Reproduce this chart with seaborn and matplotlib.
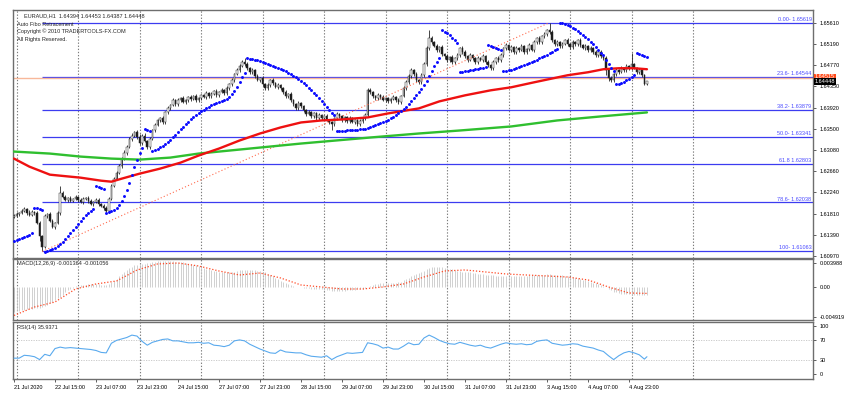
import numpy as np
import matplotlib
matplotlib.use("Agg")
import matplotlib.pyplot as plt
import seaborn as sns

sns.set_theme(style="white")
plt.rcParams["font.family"] = ["Liberation Sans", "DejaVu Sans"]

# ---------------- data (prices in 1e-4 units) ----------------
first_open = 16175
close = [
    16177, 16181, 16183, 16187, 16191, 16183, 16179, 16185, 16183, 16163,
    16137, 16115, 16177, 16181, 16167, 16155, 16163, 16183, 16223, 16215,
    16209, 16213, 16207, 16211, 16215, 16209, 16205, 16211, 16213, 16207,
    16201, 16205, 16209, 16201, 16197, 16193, 16187, 16211, 16237, 16251,
    16263, 16277, 16291, 16303, 16315, 16331, 16337, 16343, 16335, 16323,
    16337, 16327, 16315, 16331, 16347, 16357, 16367, 16371, 16363, 16383,
    16391, 16397, 16407, 16399, 16407, 16411, 16403, 16407, 16413, 16409,
    16415, 16407, 16411, 16417, 16413, 16421, 16415, 16419, 16425, 16417,
    16423, 16427, 16421, 16431, 16439, 16447, 16459, 16467, 16475, 16483,
    16479, 16471, 16463, 16467, 16455, 16447, 16451, 16439, 16431, 16437,
    16447, 16441, 16433, 16437, 16431, 16423, 16415, 16419, 16407, 16399,
    16391, 16401, 16395, 16387, 16379, 16383, 16375, 16381, 16371, 16377,
    16371, 16375, 16367, 16363, 16359, 16371, 16379, 16375, 16367, 16373,
    16365, 16371, 16363, 16367, 16359, 16365, 16371, 16377, 16427, 16423,
    16415, 16411, 16417, 16413, 16407, 16411, 16405, 16409, 16413, 16407,
    16403, 16415, 16431, 16443, 16455, 16467, 16459, 16447, 16443, 16457,
    16479, 16511, 16531, 16523, 16515, 16507, 16513, 16499, 16495, 16487,
    16493, 16483, 16491, 16497, 16511, 16503, 16495, 16487, 16497, 16491,
    16483, 16491, 16487, 16495, 16483, 16477, 16471, 16483, 16491, 16487,
    16497, 16511, 16517, 16507, 16513, 16503, 16511, 16507, 16515, 16503,
    16509, 16517, 16507, 16523, 16531, 16523, 16535, 16539, 16547, 16543,
    16527, 16519, 16523, 16515, 16519, 16527, 16519, 16513, 16523, 16519,
    16527, 16517, 16511, 16515, 16507, 16511, 16503, 16497, 16503, 16495,
    16491, 16467, 16451, 16447, 16459, 16467, 16463, 16471, 16467, 16475,
    16471, 16479, 16471, 16463, 16467, 16457, 16439, 16445,
]
# upper / lower wick lengths in pips (base-36 digits, one per bar)
wick_hi = ("3423425324" "32324324e3" "4232423324" "3243234343" "4345434245"
           "3424343253" "4342434324" "3423243424" "3424343545" "8434342434"
           "3424324342" "3423242324" "3242324323" "2423243444" "3242423243"
           "4345443434" "44g4353434" "3434244343" "3424342434" "4343424343"
           "342434343f" "4343424343" "3424342434" "3434342434" "3m324331")
wick_lo = ("3243242343" "a924334243" "3423243424" "2434342423" "3242434354"
           "4345342434" "3424342434" "2434243424" "3243434242" "4343424343"
           "3424343434" "4343424343" "3424c43434" "3424343434" "3434243424"
           "3424343434" "3434243454" "4343434324" "3424343434" "4342434324"
           "3424343434" "4343424343" "3424343434" "4a63434243" "34243421")

sar = (
    [16127, 16129, 16131, 16133, 16135, 16137, 16139, 16143]
    + [16193, 16192, 16190, 16188]
    + [16105, 16107, 16109, 16111, 16113, 16117, 16121, 16125, 16131, 16137,
       16143, 16149, 16155, 16161, 16167, 16173, 16179, 16183, 16187, 16191]
    + [16237, 16235, 16233, 16231]
    + [16183, 16185, 16187, 16189, 16193, 16199, 16207, 16217, 16229, 16243,
       16259, 16275, 16289, 16303, 16313]
    + [16349, 16347, 16345]
    + [16307, 16309, 16311, 16314, 16317, 16321, 16325, 16329, 16334, 16339,
       16344, 16349, 16354, 16359, 16364, 16369, 16373, 16377, 16381, 16385,
       16388, 16391, 16394, 16397, 16399, 16401, 16403, 16405, 16407, 16410,
       16414, 16419, 16425, 16433, 16443, 16453, 16461]
    + [16491, 16490, 16489, 16488, 16487, 16485, 16483, 16481, 16479, 16477,
       16475, 16473, 16471, 16469, 16467, 16465, 16462, 16459, 16456, 16453,
       16449, 16445, 16441, 16437, 16432, 16427, 16422, 16417, 16411, 16405,
       16399, 16393, 16387, 16381, 16378]
    + [16345, 16345, 16346, 16346, 16347, 16347, 16347, 16348, 16348, 16349,
       16349, 16350, 16351, 16353, 16355, 16357, 16359, 16361, 16363, 16365,
       16368, 16371, 16374, 16377, 16381, 16385, 16389, 16394, 16399, 16405,
       16411, 16417, 16423, 16429, 16437, 16445, 16455, 16465, 16475, 16483,
       16491]
    + [16547, 16544, 16541, 16537, 16532, 16527, 16521]
    + [16463, 16464, 16465, 16466, 16467, 16468, 16469, 16470, 16471, 16472, 16473]
    + [16517, 16515, 16513, 16511, 16509, 16507]
    + [16465, 16466, 16467, 16468, 16469, 16471, 16473, 16475, 16477, 16479,
       16481, 16483, 16485, 16488, 16491, 16493, 16495, 16498, 16501, 16504,
       16507, 16510]
    + [16562, 16561, 16559, 16557, 16555, 16552, 16549, 16546, 16542, 16538,
       16534, 16529, 16524, 16519, 16513, 16507, 16501, 16497, 16487, 16479,
       16472, 16466]
    + [16439, 16440, 16442, 16444, 16447, 16450, 16453, 16457]
    + [16501, 16500, 16498, 16496, 16493]
)

red_ma_idx = [0, 6, 14, 26, 34, 38, 42, 49, 57, 65, 72, 80, 88, 96, 104, 112,
              120, 128, 138, 146, 158, 166, 176, 186, 194, 203, 216, 224, 230,
              236, 242, 247]
red_ma = [16291, 16275, 16259, 16253, 16247, 16245, 16251, 16261, 16271, 16283,
          16297, 16311, 16327, 16341, 16353, 16363, 16367, 16369, 16373, 16381,
          16391, 16405, 16417, 16427, 16433, 16443, 16457, 16463, 16469, 16471,
          16471, 16469]
green_ma_idx = [0, 14, 26, 38, 49, 61, 72, 84, 96, 112, 139, 158, 174, 194, 212,
                229, 247]
green_ma = [16305, 16301, 16295, 16291, 16289, 16293, 16301, 16307, 16313, 16321,
            16333, 16341, 16347, 16355, 16367, 16375, 16383]

fib_levels = ["0.00-", "23.6-", "38.2-", "50.0-", "61.8", "78.6-", "100-"]
fib_prices = [1.65619, 1.64544, 1.63879, 1.63341, 1.62803, 1.62038, 1.61063]
hline_price = 1.64515
bid_price = 1.64448

price_ticks = [1.65610, 1.65190, 1.64770, 1.64350, 1.63920, 1.63500, 1.63080,
               1.62660, 1.62240, 1.61810, 1.61390, 1.60970]
price_tick_labels = ["1.65610", "1.65190", "1.64770", "1.64350", "1.63920",
                     "1.63500", "1.63080", "1.62660", "1.62240", "1.61810",
                     "1.61390", "1.60970"]

# MACD main (histogram) in 1e-5 units, one per bar
macd = [
    -410, -400, -390, -385, -375, -370, -365, -360, -355, -350,
    -345, -335, -315, -290, -265, -240, -215, -190, -165, -125,
    -85, -50, -30, -10, 10, 20, 30, 35, 40, 45,
    50, 50, 48, 45, 40, 35, 35, 55, 75, 100,
    135, 175, 210, 245, 280, 310, 335, 355, 370, 380,
    385, 385, 390, 400, 410, 420, 428, 430, 428, 432,
    430, 428, 425, 420, 415, 410, 405, 395, 385, 375,
    365, 355, 340, 330, 320, 305, 295, 285, 270, 262,
    255, 250, 245, 240, 240, 245, 255, 265, 275, 282,
    285, 283, 280, 278, 275, 270, 265, 255, 240, 222,
    200, 175, 150, 125, 105, 85, 65, 45, 30, 15,
    5, 0, -5, -10, -15, -20, -25, -28, -30, -33,
    -38, -45, -52, -58, -64, -68, -66, -64, -62, -60,
    -56, -52, -48, -42, -36, -30, -25, -20, 0, 15,
    30, 45, 55, 60, 62, 65, 66, 66, 68, 72,
    80, 90, 110, 130, 155, 180, 200, 215, 230, 250,
    270, 295, 318, 325, 330, 330, 328, 325, 318, 310,
    300, 290, 280, 270, 262, 255, 250, 245, 240, 235,
    228, 222, 215, 210, 205, 200, 195, 190, 185, 182,
    182, 184, 186, 185, 184, 185, 186, 185, 186, 188,
    188, 190, 192, 195, 198, 200, 202, 205, 208, 210,
    205, 200, 196, 192, 190, 188, 180, 172, 165, 155,
    145, 135, 122, 110, 98, 85, 72, 60, 45, 30,
    15, -5, -30, -55, -75, -90, -100, -108, -112, -115,
    -120, -125, -128, -130, -132, -134, -135, -136,
]
signal_idx = [0, 8, 16, 24, 32, 40, 48, 56, 64, 72, 80, 88, 96, 104, 112, 120,
              128, 136, 144, 152, 160, 168, 176, 184, 192, 200, 208, 216, 224,
              232, 240, 247]
signal = [-470, -330, -248, -33, 50, 99, 280, 380, 396, 347, 264, 198, 231, 149,
          33, 0, -33, -33, 0, 50, 165, 264, 281, 248, 215, 198, 182, 165, 116,
          0, -99, -106]
macd_ticks = [0.003988, 0.0, -0.004919]
macd_tick_labels = ["0.003988", "0.00", "-0.004919"]

rsi_idx = list(range(0, 247, 2)) + [247]
rsi = [33, 33, 39, 38, 36, 30, 41, 38, 53, 56, 54, 55, 54, 53, 52, 51, 49, 45,
       44, 64, 70, 73, 76, 81, 79, 68, 60, 66, 69, 72, 73, 69, 69, 67, 65, 65,
       66, 64, 65, 60, 59, 57, 60, 69, 71, 69, 62, 57, 52, 48, 44, 43, 50, 46,
       45, 44, 44, 40, 37, 36, 35, 38, 30, 36, 40, 44, 43, 44, 45, 65, 63, 60,
       54, 56, 52, 52, 58, 65, 61, 62, 75, 81, 76, 70, 66, 63, 62, 66, 63, 60,
       58, 60, 56, 54, 58, 62, 65, 63, 62, 63, 61, 62, 68, 70, 71, 64, 62, 60,
       61, 63, 62, 58, 56, 54, 50, 47, 38, 30, 38, 44, 47, 44, 40, 31, 36]
rsi_ticks = [100, 70, 30, 0]
rsi_tick_labels = ["100", "70", "30", "0"]

date_idx = [0, 16, 32, 48, 64, 80, 96, 112, 128, 144, 160, 176, 192, 208, 224, 240]
date_labels = ["21 Jul 2020", "22 Jul 15:00", "23 Jul 07:00", "23 Jul 23:00",
               "24 Jul 15:00", "27 Jul 07:00", "27 Jul 23:00", "28 Jul 15:00",
               "29 Jul 07:00", "29 Jul 23:00", "30 Jul 15:00", "31 Jul 07:00",
               "31 Jul 23:00", "3 Aug 15:00", "4 Aug 07:00", "4 Aug 23:00"]
grid_idx = [1, 25, 49, 73, 97, 121, 145, 169, 193, 217, 241, 265]

header = "EURAUD,H1  1.64394 1.64453 1.64387 1.64448"
info_lines = ["Auto Fibo Retracement", "Copyright \u00a9 2010 TRADERTOOLS-FX.COM",
              "All Rights Reserved."]
macd_title = "MACD(12,26,9) -0.001364 -0.001056"
rsi_title = "RSI(14) 35.9371"

# ---------------- figure ----------------
W, H = 855, 395
fig = plt.figure(figsize=(W / 100, H / 100), dpi=100)
fig.patch.set_facecolor("white")


def axes_px(x0, y0, x1, y1):
    return fig.add_axes([x0 / W, 1 - y1 / H, (x1 - x0) / W, (y1 - y0) / H])


def ftext(x, y, s, **kw):
    kw.setdefault("va", "center")
    kw.setdefault("fontsize", 4)
    return fig.text(x / W, 1 - y / H, s, **kw)


ax = axes_px(13, 10, 813, 258)
axm = axes_px(13, 259, 813, 320)
axr = axes_px(13, 322, 813, 379)
XL, XR = -0.39, 311.8

N = len(close)
idx = np.arange(N)
c = np.array(close, float) / 1e4
o = np.r_[first_open, close[:-1]].astype(float) / 1e4
wh = np.array([int(ch, 36) for ch in wick_hi]) / 1e4
wl = np.array([int(ch, 36) for ch in wick_lo]) / 1e4
h = np.maximum(o, c) + wh
l = np.minimum(o, c) - wl
i_low = int(np.argmin(l))
i_high = int(np.argmax(h))

grid_kw = dict(color="#7c7c7c", lw=0.8, ls=(0, (1.2, 1.6)), zorder=0.5)
for a in (ax, axm, axr):
    for g in grid_idx:
        a.axvline(g, **grid_kw)

# main chart
ax.hlines(fib_prices, i_low, XR, colors="#3c3cf0", lw=0.9, zorder=1)
ax.axhline(hline_price, color="#f8b89a", lw=1.0, zorder=1)
ax.vlines(idx, l, h, colors="#262626", lw=0.6, zorder=2)
ax.bar(idx, np.abs(c - o), bottom=np.minimum(o, c), width=0.62,
       color=np.where(c >= o, "white", "#1a1a1a"), edgecolor="#262626",
       linewidth=0.35, zorder=3)
ax.plot([i_low, i_high], [l[i_low], h[i_high]], color="#ff6a4d", lw=0.8,
        ls=(0, (1, 2)), zorder=4)
sns.lineplot(x=green_ma_idx, y=np.array(green_ma) / 1e4, ax=ax,
             color="#2fbf2f", linewidth=1.7, zorder=4)
sns.lineplot(x=red_ma_idx, y=np.array(red_ma) / 1e4, ax=ax,
             color="#ee1111", linewidth=1.7, zorder=4)
sns.scatterplot(x=idx, y=np.array(sar) / 1e4, ax=ax, color="#0a0aff", s=4.5,
                linewidth=0, zorder=5)
ax.set_xlim(XL, XR)
ax.set_ylim(1.6093, 1.6587)
for lv, pr in zip(fib_levels, fib_prices):
    ax.annotate(f"{lv} {pr:.5f}", xy=(1, pr), xycoords=("axes fraction", "data"),
                xytext=(-1, 0.6), textcoords="offset points", ha="right",
                va="bottom", fontsize=4, color="#4a4aff")

# MACD
axm.vlines(idx, 0, np.array(macd) / 1e5, colors="#c4c4c4", lw=0.55, zorder=2)
axm.plot(signal_idx, np.array(signal) / 1e5, color="#ff4a26", lw=0.9,
         ls=(0, (1, 1.5)), zorder=3)
axm.set_xlim(XL, XR)
axm.set_ylim(-0.00545, 0.00462)

# RSI
for lvl in (70, 30):
    axr.axhline(lvl, color="#c4c4c4", lw=0.6, ls=(0, (1.5, 1.5)), zorder=1)
sns.lineplot(x=rsi_idx, y=rsi, ax=axr, color="#5aaaee", linewidth=0.8, zorder=3)
axr.set_xlim(XL, XR)
axr.set_ylim(-10.4, 108.3)

# axes styling
for a, ticks, labels in ((ax, price_ticks, price_tick_labels),
                         (axm, macd_ticks, macd_tick_labels),
                         (axr, rsi_ticks, rsi_tick_labels)):
    a.set_facecolor("white")
    a.set_xlabel("")
    a.set_ylabel("")
    a.yaxis.tick_right()
    a.set_yticks(ticks)
    a.set_yticklabels(labels)
    a.tick_params(axis="y", right=True, left=False, length=2.5, width=0.6,
                  pad=2, labelsize=4, color="#444444", labelcolor="black")
    for s in a.spines.values():
        s.set_color("#6e6e6e")
        s.set_linewidth(1.0)
    if a is not axr:
        a.set_xticks([])

axr.set_xticks(date_idx)
axr.set_xticklabels(date_labels, ha="left")
axr.tick_params(axis="x", bottom=True, length=2.5, width=0.6, pad=1.5,
                labelsize=4, color="#444444", labelcolor="black")

# texts
ftext(24, 16, header)
for k, t in enumerate(info_lines):
    ftext(17, 24 + 7.5 * k, t)
ftext(17, 264, macd_title)
ftext(17, 327, rsi_title)

# price boxes on right axis
ftext(815, 77, f"{hline_price:.5f}", color="white", fontsize=4,
      bbox=dict(boxstyle="square,pad=0.15", fc="#ff4a1a", ec="none"))
ftext(815, 81.5, f"{bid_price:.5f}", color="white", fontsize=4,
      bbox=dict(boxstyle="square,pad=0.15", fc="black", ec="none"))

fig.savefig("out.png", dpi=100, facecolor="white")
